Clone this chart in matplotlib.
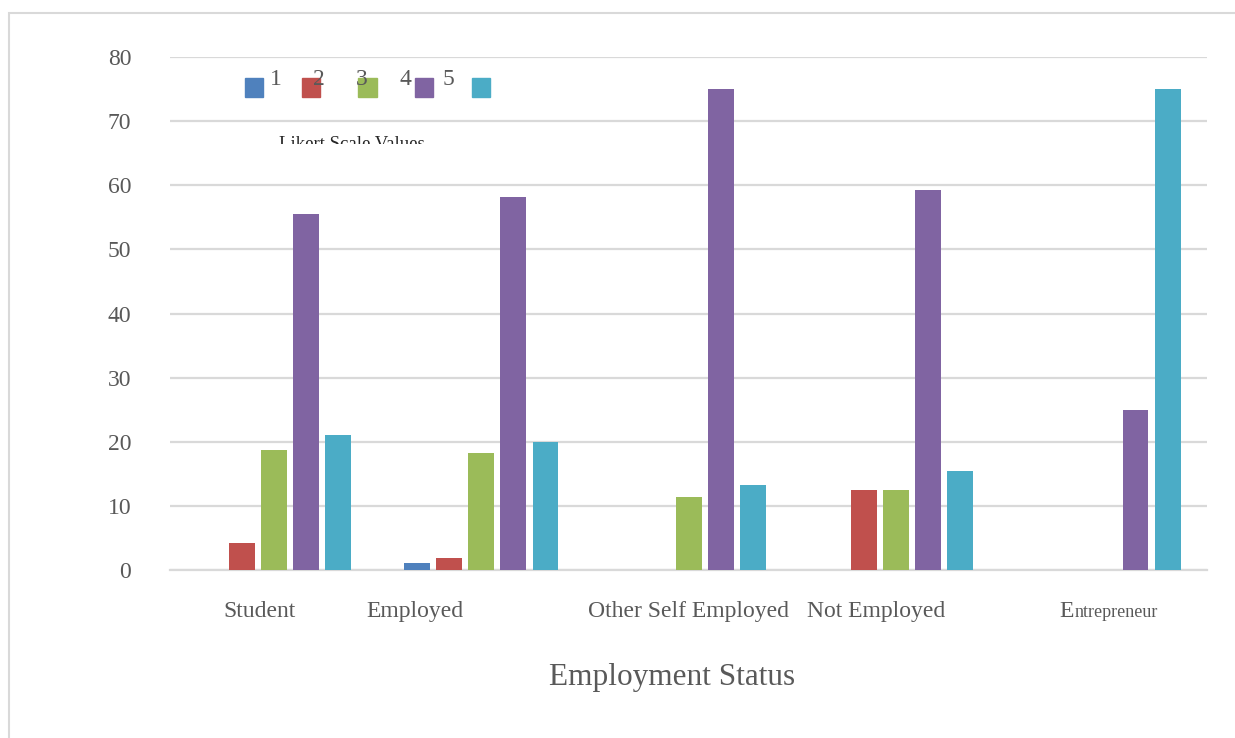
import matplotlib
matplotlib.use('Agg')
import matplotlib.pyplot as plt
import numpy as np
from matplotlib.patches import Rectangle
from matplotlib.transforms import Bbox

# data
categories = ['Student', 'Employed', 'Other Self Employed', 'Not Employed', 'Entrepreneur']
likert_labels = ['1', '2', '3', '4', '5']
scale_1 = [0, 1.1, 0, 0, 0]
scale_2 = [4.2, 1.9, 0, 12.5, 0]
scale_3 = [18.7, 18.3, 11.4, 12.5, 0]
scale_4 = [55.6, 58.1, 75.0, 59.3, 25.0]
scale_5 = [21.1, 19.9, 13.3, 15.5, 75.0]
series = [scale_1, scale_2, scale_3, scale_4, scale_5]
colors = ['#4f81bd', '#c0504d', '#9bbb59', '#8064a2', '#4bacc6']

# the category labels in the original sit a bit off their groups
label_shift = [-0.07, -0.32, 0.0, -0.095, 0.015]

plt.rcParams['font.family'] = ['Liberation Serif', 'DejaVu Serif']
txt = '#595959'
grid = '#d9d9d9'

fig = plt.figure(figsize=(12.35, 7.38), dpi=100)
ax = fig.add_axes([0.1377, 0.2276, 0.8397, 0.6951])

x = np.arange(len(categories))
step = 0.155
for i, vals in enumerate(series):
    ax.bar(x + (i - 2) * step, vals, width=0.125, color=colors[i], zorder=3)

ax.set_xlim(-0.5, 4.5)
ax.set_ylim(0, 80)
ax.set_yticks(range(0, 81, 10))
ax.yaxis.grid(True, color=grid, lw=1.6, zorder=0)
ax.tick_params(axis='y', length=0, pad=28, labelsize=17, labelcolor=txt)
ax.set_xticks([])
for s in ['top', 'right', 'left']:
    ax.spines[s].set_visible(False)
ax.spines['bottom'].set_color(grid)
ax.spines['bottom'].set_linewidth(1.6)

# category labels
tr = ax.get_xaxis_transform()
for i, name in enumerate(categories):
    if name == 'Entrepreneur':
        t1 = ax.text(x[i] + label_shift[i] - 0.225, -0.08, 'E', transform=tr,
                     ha='left', va='center', fontsize=17, color=txt)
        ax.annotate('ntrepreneur', xy=(1, 0.05), xycoords=t1, ha='left', va='bottom',
                    fontsize=13, color=txt)
    else:
        ax.text(x[i] + label_shift[i], -0.08, name, transform=tr,
                ha='center', va='center', fontsize=17, color=txt)

ax.text(0.484, -0.21, 'Employment Status', transform=ax.transAxes,
        ha='center', va='center', fontsize=22.5, color=txt)

# legend drawn by hand to keep the overlapping look of the original
for i, lab in enumerate(likert_labels):
    ax.add_patch(Rectangle((0.0723 + i * 0.0547, 0.922), 0.0174, 0.037,
                           transform=ax.transAxes, color=colors[i],
                           clip_on=False, zorder=4))
    ax.text(0.0964 + i * 0.0415, 0.956, lab, transform=ax.transAxes,
            ha='left', va='center', fontsize=17, color=txt, zorder=5)

# legend title, cut off at the bottom like in the original
lk = ax.text(0.175, 0.847, 'Likert Scale Values', transform=ax.transAxes,
             ha='center', va='top', fontsize=13.5, color='#262626')
lk.set_clip_box(Bbox.from_extents(0, 738 - 144, 1235, 738))
lk.set_clip_on(True)

# outer frame
fig.patches.append(Rectangle((9 / 1235, -0.01), 1.02, 1 - 13 / 738 + 0.01,
                             transform=fig.transFigure, fill=False,
                             edgecolor=grid, lw=1.5))

fig.savefig('out.png', dpi=100)
